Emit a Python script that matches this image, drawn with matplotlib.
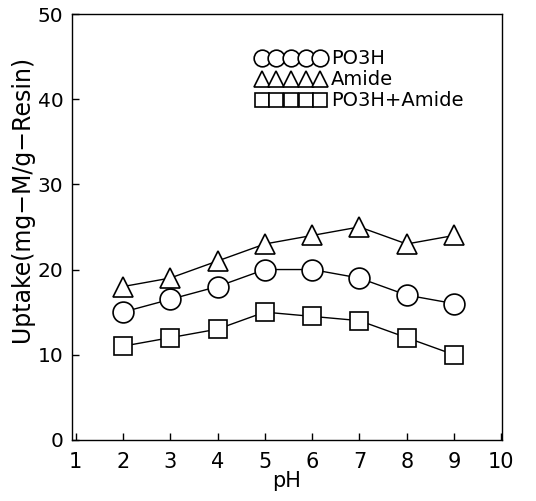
import matplotlib
matplotlib.use("Agg")
import matplotlib.pyplot as plt

ph = [2, 3, 4, 5, 6, 7, 8, 9]
po3h = [15, 16.5, 18, 20, 20, 19, 17, 16]
amide = [18, 19, 21, 23, 24, 25, 23, 24]
po3h_amide = [11, 12, 13, 15, 14.5, 14, 12, 10]
labels = ["PO3H", "Amide", "PO3H+Amide"]
xticks = [1, 2, 3, 4, 5, 6, 7, 8, 9, 10]
yticks = [0, 10, 20, 30, 40, 50]

plt.rcParams['font.family'] = ['DejaVu Sans']
fig = plt.figure(figsize=(5.36, 5.01), dpi=100)
ax = fig.add_axes([0.134, 0.122, 0.803, 0.85])

common = dict(color='black', lw=1.0, mfc='white', mec='black', mew=1.2)
ax.plot(ph, po3h, marker='o', ms=15, label=labels[0], **common)
ax.plot(ph, amide, marker='^', ms=15, label=labels[1], **common)
ax.plot(ph, po3h_amide, marker='s', ms=13, label=labels[2], **common)

ax.set_xlim(0.92, 10.02)
ax.set_ylim(0, 50)
ax.set_xticks(xticks)
ax.set_yticks(yticks)
ax.tick_params(axis='x', direction='in', length=5, labelsize=15, width=1, pad=9)
ax.tick_params(axis='y', direction='in', length=5, labelsize=14.5, width=1, pad=6)
ax.set_xlabel('pH', fontsize=15, labelpad=-1)
ax.set_ylabel('Uptake(mg\u2212M/g\u2212Resin)', fontsize=17, va='center')
ax.yaxis.set_label_coords(-0.115, 0.565)
for s in ax.spines.values():
    s.set_linewidth(1.0)

leg = ax.legend(loc='upper left', bbox_to_anchor=(0.41, 0.935), frameon=False,
                numpoints=5, markerscale=0.8, handlelength=3.6,
                handletextpad=0.25, labelspacing=0.1, fontsize=14,
                borderaxespad=0)
for line in leg.get_lines():
    line.set_linestyle('None')

fig.savefig('out.png', dpi=100)
